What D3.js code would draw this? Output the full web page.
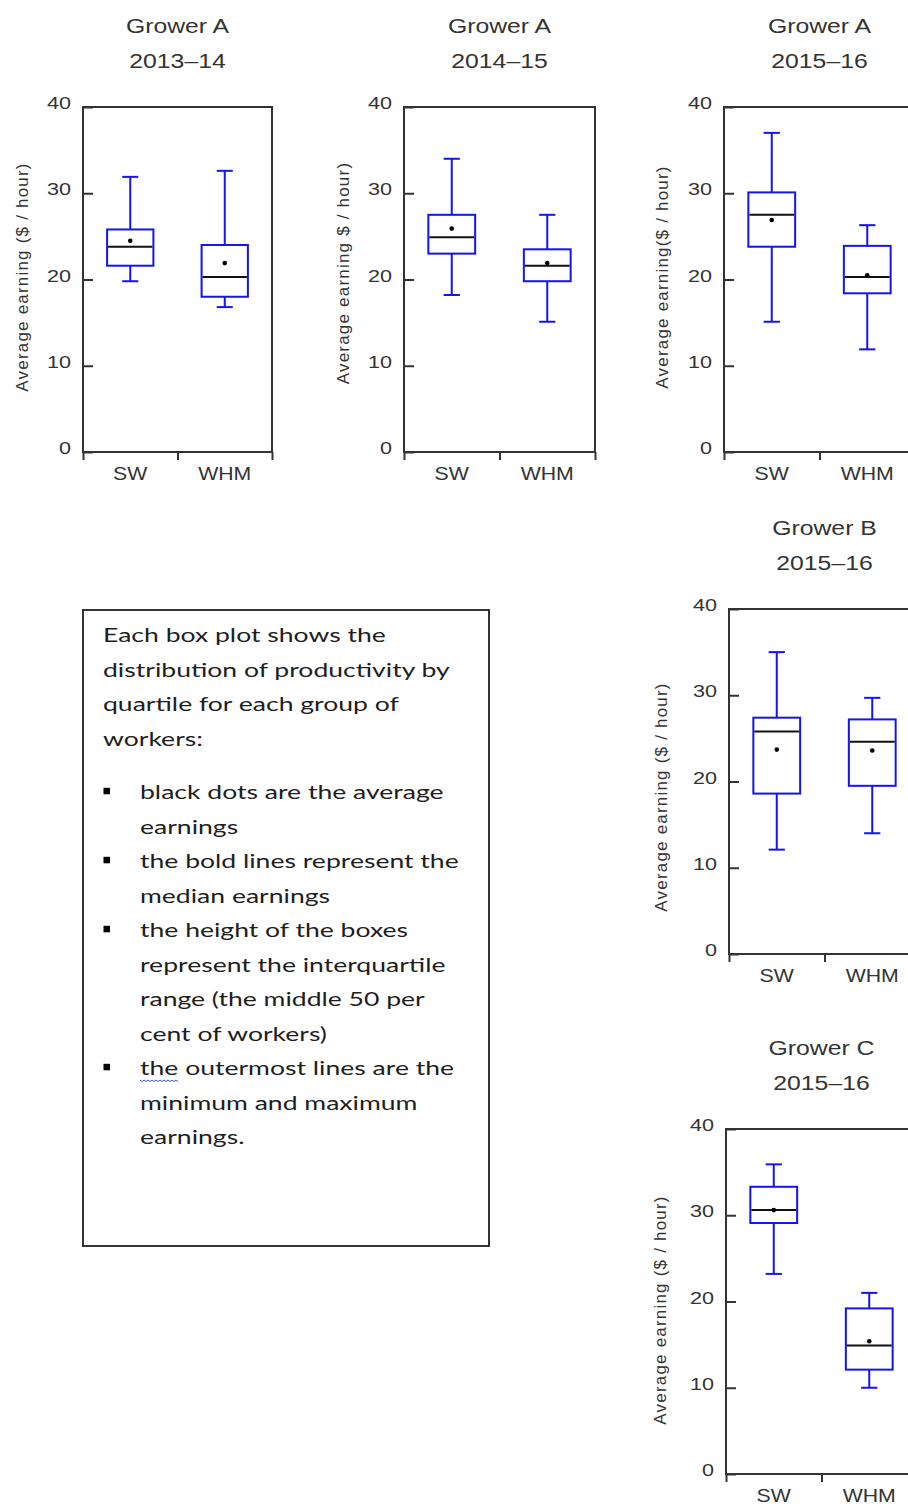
<!DOCTYPE html>
<html>
<head>
<meta charset="utf-8">
<script src="https://cdn.jsdelivr.net/npm/d3@7"></script>
<style>
  body { margin: 0; background: #fff; }
  svg { display: block; overflow: hidden; }
</style>
</head>
<body>
<script>
// chart data, one entry per panel, [SW, WHM] inside
const growers = ["Grower A", "Grower A", "Grower A", "Grower B", "Grower C"];
const seasons = ["2013–14", "2014–15", "2015–16", "2015–16", "2015–16"];
const groups = ["SW", "WHM"];
const yTicks = [0, 10, 20, 30, 40];
const yTitles = [
	"Average earning ($ / hour)",
	"Average earning $ / hour)",
	"Average earning($ / hour)",
	"Average earning ($ / hour)",
	"Average earning ($ / hour)"
];
const minEarn    = [[19.8, 16.8], [18.2, 15.1], [15.1, 11.9], [12.1, 14.0], [23.2, 10.0]];
const q1Earn     = [[21.6, 18.0], [23.0, 19.8], [23.8, 18.4], [18.6, 19.5], [29.1, 12.1]];
const medianEarn = [[23.8, 20.3], [24.9, 21.6], [27.5, 20.3], [25.8, 24.6], [30.6, 14.9]];
const q3Earn     = [[25.8, 24.0], [27.5, 23.5], [30.1, 23.9], [27.4, 27.2], [33.3, 19.2]];
const maxEarn    = [[31.9, 32.6], [34.0, 27.5], [37.0, 26.3], [35.0, 29.7], [35.9, 21.0]];
const meanEarn   = [[24.5, 21.9], [25.9, 21.9], [26.9, 20.5], [23.7, 23.6], [30.6, 15.4]];

// note text
const noteIntro = ["Each box plot shows the", "distribution of productivity by", "quartile for each group of", "workers:"];
const noteBullets = [
	["black dots are the average", "earnings"],
	["the bold lines represent the", "median earnings"],
	["the height of the boxes", "represent the interquartile", "range (the middle 50 per", "cent of workers)"],
	["the outermost lines are the", "minimum and maximum", "earnings."]
];

// page layout
const W = 908, H = 1504;
const panels = [
	{x: 83,  y: 107,  w: 189, h: 345, tx: -55, ty: 170},
	{x: 404, y: 107,  w: 191, h: 345, tx: -55, ty: 166},
	{x: 724, y: 107,  w: 191, h: 345, tx: -56, ty: 170},
	{x: 729, y: 609,  w: 191, h: 345, tx: -62, ty: 188},
	{x: 726, y: 1129, w: 191, h: 345, tx: -60, ty: 181}
];
const ink = "#333", boxBlue = "#1414f0";
const font = "'Liberation Sans', Arial, sans-serif";

let svg = d3.select("body").append("svg")
	.attr("width", W)
	.attr("height", H);

function drawPanel(i) {
	let p = panels[i];
	let g = svg.append("g").attr("transform", `translate(${p.x},${p.y})`);

	let y = d3.scaleLinear().domain([0, 40]).range([p.h, 0]);
	let x = d3.scaleBand().domain(groups).range([0, p.w]);
	let xEdge = d3.scaleLinear().domain([0, groups.length]).range([0, p.w]);

	// y axis, ticks point inward
	let tickSx = 1.35;
	g.append("g")
		.call(d3.axisLeft(y).tickValues(yTicks).tickSize(-10).tickPadding(12))
		.call(a => a.select(".domain").remove())
		.call(a => a.selectAll("line").attr("stroke", ink).attr("stroke-width", 2))
		.call(a => a.selectAll("text")
			.attr("x", -12 / tickSx)
			.attr("dy", "0.1em")
			.attr("transform", `scale(${tickSx},1)`)
			.attr("fill", ink)
			.style("font", `16px ${font}`));

	// category boundaries
	g.append("g")
		.attr("transform", `translate(0,${p.h})`)
		.call(d3.axisBottom(xEdge).tickValues(d3.range(groups.length + 1)).tickSize(8).tickFormat(""))
		.call(a => a.select(".domain").remove())
		.call(a => a.selectAll("line").attr("stroke", ink).attr("stroke-width", 2));

	let labSx = 1.12;
	g.append("g")
		.attr("transform", `translate(0,${p.h})`)
		.call(d3.axisBottom(x).tickSize(0).tickPadding(15))
		.call(a => a.select(".domain").remove())
		.call(a => a.selectAll("text")
			.attr("transform", `scale(${labSx},1)`)
			.attr("fill", ink)
			.style("font", `19px ${font}`));
	g.selectAll(".tick").filter(function() { return this.parentNode.getAttribute("transform"); });

	// frame
	g.append("rect")
		.attr("width", p.w)
		.attr("height", p.h)
		.attr("fill", "none")
		.attr("stroke", ink)
		.attr("stroke-width", 2);

	// boxes
	let bw = x.bandwidth() * 0.49, cw = x.bandwidth() * 0.17;
	let stats = groups.map((d, j) => ({
		key: d,
		min: minEarn[i][j], q1: q1Earn[i][j], med: medianEarn[i][j],
		q3: q3Earn[i][j], max: maxEarn[i][j], mean: meanEarn[i][j]
	}));
	let box = g.selectAll(".box").data(stats).join("g")
		.attr("class", "box")
		.attr("transform", d => `translate(${x(d.key) + x.bandwidth() / 2},0)`);

	box.append("line").attr("y1", d => y(d.max)).attr("y2", d => y(d.q3));
	box.append("line").attr("y1", d => y(d.q1)).attr("y2", d => y(d.min));
	box.append("line").attr("x1", -cw / 2).attr("x2", cw / 2).attr("y1", d => y(d.max)).attr("y2", d => y(d.max));
	box.append("line").attr("x1", -cw / 2).attr("x2", cw / 2).attr("y1", d => y(d.min)).attr("y2", d => y(d.min));
	box.selectAll("line").attr("stroke", boxBlue).attr("stroke-width", 2);
	box.append("rect")
		.attr("x", -bw / 2)
		.attr("width", bw)
		.attr("y", d => y(d.q3))
		.attr("height", d => y(d.q1) - y(d.q3))
		.attr("fill", "none")
		.attr("stroke", boxBlue)
		.attr("stroke-width", 2);
	box.append("line")
		.attr("x1", -bw / 2 + 1).attr("x2", bw / 2 - 1)
		.attr("y1", d => y(d.med)).attr("y2", d => y(d.med))
		.attr("stroke", "#111")
		.attr("stroke-width", 2);
	box.append("circle")
		.attr("cy", d => y(d.mean))
		.attr("r", 2.3)
		.attr("fill", "#000");

	// titles
	let titleSx = 1.18;
	[growers[i], seasons[i]].forEach((t, k) => {
		g.append("text")
			.attr("transform", `translate(${p.w / 2},${k ? -39 : -74}) scale(${titleSx},1)`)
			.attr("text-anchor", "middle")
			.attr("fill", ink)
			.style("font", `21px ${font}`)
			.text(t);
	});

	g.append("text")
		.attr("transform", `translate(${p.tx},${p.ty}) rotate(-90)`)
		.attr("text-anchor", "middle")
		.attr("fill", ink)
		.style("font", `17px ${font}`)
		.style("letter-spacing", "1.2px")
		.text(yTitles[i]);
}

d3.range(panels.length).forEach(drawPanel);

// note box
let note = svg.append("g");
note.append("rect")
	.attr("x", 83).attr("y", 610)
	.attr("width", 406).attr("height", 636)
	.attr("fill", "none")
	.attr("stroke", ink)
	.attr("stroke-width", 2);

let noteFont = "18.5px Lato, 'Open Sans', sans-serif";
let lineH = 34.5;

// stretch the note text to the width the first line takes in the picture
let probe = note.append("text").style("font", noteFont).text(noteIntro[0]);
let noteSx = 283 / probe.node().getComputedTextLength();
probe.remove();

function noteLine(t, x, yy) {
	return note.append("text")
		.attr("transform", `translate(${x},${yy}) scale(${noteSx},1)`)
		.attr("fill", "#1e1e1e")
		.style("font", noteFont)
		.text(t);
}

noteIntro.forEach((t, k) => noteLine(t, 103, 642 + k * lineH));

let yy = 799.3;
noteBullets.forEach((lines, b) => {
	note.append("rect")
		.attr("x", 103.5).attr("y", yy - 11.5)
		.attr("width", 6.5).attr("height", 6.5)
		.attr("fill", "#000");
	lines.forEach((t, k) => {
		let el = noteLine(t, 140, yy);
		if (b === noteBullets.length - 1 && k === 0) {
			// spell-check squiggle under the first word
			let wl = el.node().getSubStringLength(0, 3) * noteSx;
			let pts = d3.range(0, wl + 0.1, 2).map((v, n) => [140 + v, yy + 5 + (n % 2 ? 1.3 : -0.3)]);
			note.append("path")
				.attr("d", d3.line()(pts))
				.attr("fill", "none")
				.attr("stroke", "#3a5bd9")
				.attr("stroke-width", 1);
		}
		yy += lineH;
	});
});
</script>
</body>
</html>
